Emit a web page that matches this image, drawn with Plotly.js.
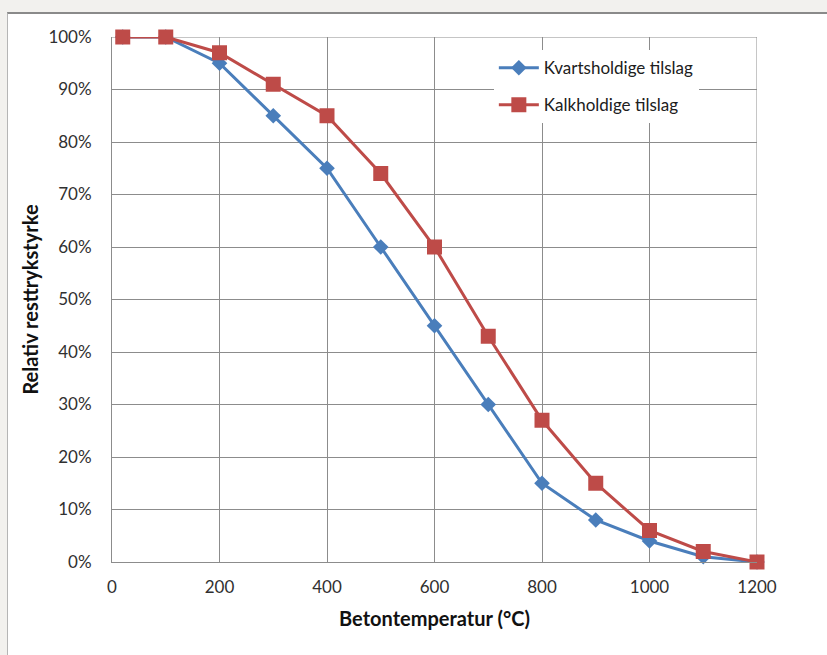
<!DOCTYPE html>
<html>
<head>
<meta charset="utf-8">
<script src="https://cdn.plot.ly/plotly-3.0.1.min.js"></script>
<style>
html,body{margin:0;padding:0;background:#f2f1ee;width:827px;height:655px;overflow:hidden;}
#frame{position:absolute;left:7px;top:12px;width:820px;height:643px;background:#fff;border-top:2px solid #8a8a8a;border-left:1px solid #b5b5b5;}
#chart{position:absolute;left:0;top:0;width:820px;height:641px;}
</style>
</head>
<body>
<div id="frame"><div id="chart"></div></div>
<script>
var temperatures = [20, 100, 200, 300, 400, 500, 600, 700, 800, 900, 1000, 1100, 1200];
var kvartsholdige = [1.00, 1.00, 0.95, 0.85, 0.75, 0.60, 0.45, 0.30, 0.15, 0.08, 0.04, 0.01, 0.00];
var kalkholdige  = [1.00, 1.00, 0.97, 0.91, 0.85, 0.74, 0.60, 0.43, 0.27, 0.15, 0.06, 0.02, 0.00];
var seriesNames = ["Kvartsholdige tilslag", "Kalkholdige tilslag"];
var xTickVals = [0, 200, 400, 600, 800, 1000, 1200];
var yTickVals = [0, 0.1, 0.2, 0.3, 0.4, 0.5, 0.6, 0.7, 0.8, 0.9, 1.0];

var font = "Lato, 'Open Sans', sans-serif";
var traces = [
  {x: temperatures, y: kvartsholdige, name: seriesNames[0], type: "scatter", mode: "lines+markers",
   legendgroup: "a", cliponaxis: false,
   line: {color: "#4a7ebb", width: 3}, marker: {symbol: "diamond", size: 12, color: "#4a7ebb"}},
  {x: temperatures, y: kalkholdige, name: seriesNames[1], type: "scatter", mode: "lines+markers",
   legendgroup: "b", cliponaxis: false,
   line: {color: "#be4b48", width: 3}, marker: {symbol: "square", size: 15, color: "#be4b48"}}
];
var layout = {
  width: 820, height: 641,
  margin: {l: 104, r: 71, t: 23, b: 93},
  paper_bgcolor: "#ffffff", plot_bgcolor: "#ffffff",
  font: {family: font, size: 17, color: "#303030"},
  showlegend: true,
  legend: {x: 0.592, y: 0.975, xanchor: "left", yanchor: "top", bgcolor: "#ffffff",
           font: {family: font, size: 17, color: "#202020"}, traceorder: "grouped", tracegroupgap: 12, itemwidth: 40},
  xaxis: {range: [0, 1200], tickvals: xTickVals, ticktext: xTickVals.map(String),
          showgrid: true, gridcolor: "#8c8c8c", gridwidth: 1, zeroline: false,
          showline: true, linecolor: "#8c8c8c", linewidth: 1, ticks: "", ticklabelstandoff: 10,
          tickfont: {family: font, size: 17, color: "#303030"},
          title: {text: "<b>Betontemperatur (°C)</b>", font: {family: font, size: 20, color: "#111"}, standoff: 15}},
  yaxis: {range: [0, 1.0], tickvals: yTickVals, tickformat: ".0%",
          showgrid: true, gridcolor: "#8c8c8c", gridwidth: 1, zeroline: false,
          showline: true, linecolor: "#8c8c8c", linewidth: 1, ticks: "", ticklabelstandoff: 16,
          tickfont: {family: font, size: 17, color: "#303030"},
          title: {text: "<b>Relativ resttrykstyrke</b>", font: {family: font, size: 20, color: "#111"}, standoff: 4}},
  shapes: [
    {type: "line", xref: "x", yref: "paper", x0: 1200, x1: 1200, y0: 0, y1: 1, line: {color: "#8c8c8c", width: 1}, layer: "below"},
    {type: "line", xref: "paper", yref: "y", x0: 0, x1: 1, y0: 1, y1: 1, line: {color: "#8c8c8c", width: 1}, layer: "below"}
  ]
};
Plotly.newPlot("chart", traces, layout, {displayModeBar: false, staticPlot: true});
</script>
</body>
</html>
